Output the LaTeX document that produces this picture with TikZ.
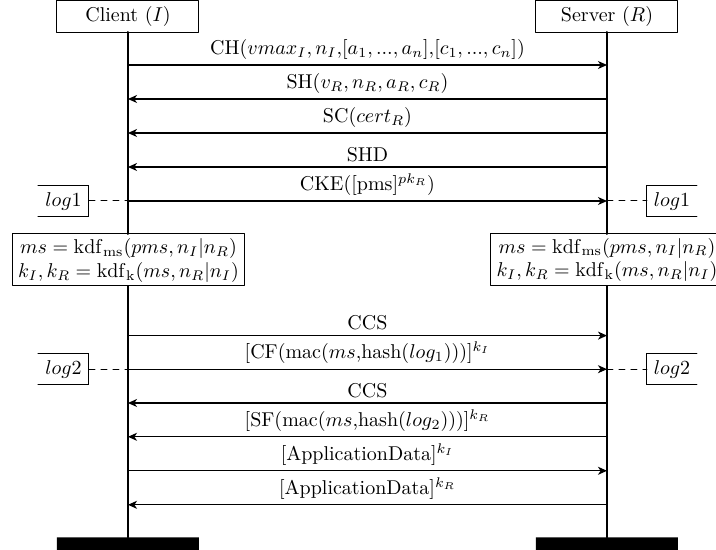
\documentclass[tikz,border=0pt]{standalone}
\usepackage{amsmath}
\usepackage{tkz-euclide}
\usetikzlibrary{arrows.meta}
\tikzset{msg/.style={line width=.6pt,-{Stealth[length=4.5pt,width=4pt,inset=1.3pt]}},
  msglabel/.style={above,inner sep=2.4pt},
  life/.style={line width=1pt},
  lbox/.style={line width=.5pt},
  logdash/.style={dashed,line width=.5pt}}

\begin{document}
\begin{tikzpicture}[scale=.3515]
\clip (0,0) rectangle (35.8,27.5);

% the two parties
\tkzDefPoint(2.85,25.9){cA}
\tkzDefPoint(9.95,25.9){cB}
\tkzDefPoint(9.95,27.47){cC}
\tkzDefPoint(2.85,27.47){cD}
\tkzDrawPolygon[lbox](cA,cB,cC,cD)
  \tkzDefBarycentricPoint(cA=1,cB=1,cC=1,cD=1) \tkzGetPoint{C}
  \tkzLabelPoint[anchor=center](C){Client $(I)$}

\tkzDefPoint(26.8,25.9){sA}
\tkzDefPoint(33.9,25.9){sB}
\tkzDefPoint(33.9,27.47){sC}
\tkzDefPoint(26.8,27.47){sD}
\tkzDrawPolygon[lbox](sA,sB,sC,sD)
  \tkzDefBarycentricPoint(sA=1,sB=1,sC=1,sD=1) \tkzGetPoint{S}
  \tkzLabelPoint[anchor=center](S){Server $(R)$}

% lifelines
\tkzDefPoint(6.4,25.9){I0}
\tkzDefPoint(6.4,15.8){I1}
\tkzDefPoint(6.4,13.2){I2}
\tkzDefPoint(6.4,.625){I3}
\tkzDefPoint(30.35,25.9){R0}
\tkzDefPoint(30.35,15.8){R1}
\tkzDefPoint(30.35,13.2){R2}
\tkzDefPoint(30.35,.625){R3}
\tkzDrawSegment[life](I0,I1)
\tkzDrawSegment[life](I2,I3)
\tkzDrawSegment[life](R0,R1)
\tkzDrawSegment[life](R2,R3)

% handshake
\tkzDefPoint(6.4,24.25){i1}
\tkzDefPoint(30.35,24.25){r1}
\tkzDrawSegment[msg](i1,r1)
\tkzLabelSegment[msglabel](i1,r1){CH($vmax_I, n_I$,[$a_1, ..., a_n$],[$c_1, ..., c_n$])}

\tkzDefPoint(6.4,22.55){i2}
\tkzDefPoint(30.35,22.55){r2}
\tkzDrawSegment[msg](r2,i2)
\tkzLabelSegment[msglabel](i2,r2){SH($v_R, n_R, a_R, c_R$)}

\tkzDefPoint(6.4,20.85){i3}
\tkzDefPoint(30.35,20.85){r3}
\tkzDrawSegment[msg](r3,i3)
\tkzLabelSegment[msglabel](i3,r3){SC($cert_R$)}

\tkzDefPoint(6.4,19.15){i4}
\tkzDefPoint(30.35,19.15){r4}
\tkzDrawSegment[msg](r4,i4)
\tkzLabelSegment[msglabel](i4,r4){SHD}

\tkzDefPoint(6.4,17.45){i5}
\tkzDefPoint(30.35,17.45){r5}
\tkzDrawSegment[msg](i5,r5)
\tkzLabelSegment[msglabel](i5,r5){CKE([pms]$^{pk_R}$)}

% log1
\tkzDefPoint(1.9,18.22){lA}
\tkzDefPoint(4.45,18.22){lB}
\tkzDefPoint(4.45,16.68){lC}
\tkzDefPoint(1.9,16.68){lD}
\tkzDrawPolySeg[lbox](lA,lB,lC,lD)
  \tkzDefBarycentricPoint(lA=1,lB=1,lC=1,lD=1) \tkzGetPoint{L1}
  \tkzLabelPoint[anchor=center](L1){$log1$}
\tkzDefPoint(4.45,17.45){lE}
\tkzDrawSegment[logdash](lE,i5)

\tkzDefPoint(34.85,18.22){mA}
\tkzDefPoint(32.35,18.22){mB}
\tkzDefPoint(32.35,16.68){mC}
\tkzDefPoint(34.85,16.68){mD}
\tkzDrawPolySeg[lbox](mA,mB,mC,mD)
  \tkzDefBarycentricPoint(mA=1,mB=1,mC=1,mD=1) \tkzGetPoint{M1}
  \tkzLabelPoint[anchor=center](M1){$log1$}
\tkzDefPoint(32.35,17.45){mE}
\tkzDrawSegment[logdash](r5,mE)

% key derivation
\tkzDefPoint(.6,13.2){kA}
\tkzDefPoint(12.25,13.2){kB}
\tkzDefPoint(12.25,15.8){kC}
\tkzDefPoint(.6,15.8){kD}
\tkzDrawPolygon[lbox](kA,kB,kC,kD)
  \tkzDefBarycentricPoint(kA=1,kB=1,kC=1,kD=1) \tkzGetPoint{K1}
  \tkzLabelPoint[anchor=center,align=center](K1){$ms = \mathrm{kdf}_{\mathrm{ms}}(pms,n_I|n_R)$\\
    $k_I, k_R = \mathrm{kdf}_{\mathrm{k}}(ms,n_R|n_I)$}

\tkzDefPoint(24.55,13.2){qA}
\tkzDefPoint(36.15,13.2){qB}
\tkzDefPoint(36.15,15.8){qC}
\tkzDefPoint(24.55,15.8){qD}
\tkzDrawPolygon[lbox](qA,qB,qC,qD)
  \tkzDefPoint(30.35,14.5){K2}
  \tkzLabelPoint[anchor=center,align=center](K2){$ms = \mathrm{kdf}_{\mathrm{ms}}(pms,n_I|n_R)$\\
    $k_I, k_R = \mathrm{kdf}_{\mathrm{k}}(ms,n_R|n_I)$}

% finished
\tkzDefPoint(6.4,10.72){i6}
\tkzDefPoint(30.35,10.72){r6}
\tkzDrawSegment[msg](i6,r6)
\tkzLabelSegment[msglabel](i6,r6){CCS}

\tkzDefPoint(6.4,9.04){i7}
\tkzDefPoint(30.35,9.04){r7}
\tkzDrawSegment[msg](i7,r7)
\tkzLabelSegment[msglabel](i7,r7){[CF(mac($ms$,hash($log_1$)))]$^{k_I}$}

% log2
\tkzDefPoint(1.9,9.82){nA}
\tkzDefPoint(4.45,9.82){nB}
\tkzDefPoint(4.45,8.26){nC}
\tkzDefPoint(1.9,8.26){nD}
\tkzDrawPolySeg[lbox](nA,nB,nC,nD)
  \tkzDefBarycentricPoint(nA=1,nB=1,nC=1,nD=1) \tkzGetPoint{L2}
  \tkzLabelPoint[anchor=center](L2){$log2$}
\tkzDefPoint(4.45,9.04){nE}
\tkzDrawSegment[logdash](nE,i7)

\tkzDefPoint(34.85,9.82){oA}
\tkzDefPoint(32.35,9.82){oB}
\tkzDefPoint(32.35,8.26){oC}
\tkzDefPoint(34.85,8.26){oD}
\tkzDrawPolySeg[lbox](oA,oB,oC,oD)
  \tkzDefBarycentricPoint(oA=1,oB=1,oC=1,oD=1) \tkzGetPoint{M2}
  \tkzLabelPoint[anchor=center](M2){$log2$}
\tkzDefPoint(32.35,9.04){oE}
\tkzDrawSegment[logdash](r7,oE)

\tkzDefPoint(6.4,7.35){i8}
\tkzDefPoint(30.35,7.35){r8}
\tkzDrawSegment[msg](r8,i8)
\tkzLabelSegment[msglabel](i8,r8){CCS}

\tkzDefPoint(6.4,5.66){i9}
\tkzDefPoint(30.35,5.66){r9}
\tkzDrawSegment[msg](r9,i9)
\tkzLabelSegment[msglabel](i9,r9){[SF(mac($ms$,hash($log_2$)))]$^{k_R}$}

% application data
\tkzDefPoint(6.4,3.96){i10}
\tkzDefPoint(30.35,3.96){r10}
\tkzDrawSegment[msg](i10,r10)
\tkzLabelSegment[msglabel](i10,r10){[ApplicationData]$^{k_I}$}

\tkzDefPoint(6.4,2.26){i11}
\tkzDefPoint(30.35,2.26){r11}
\tkzDrawSegment[msg](r11,i11)
\tkzLabelSegment[msglabel](i11,r11){[ApplicationData]$^{k_R}$}

% ends of the lifelines
\tkzDefPoint(2.85,0){bA}
\tkzDefPoint(9.95,0){bB}
\tkzDefPoint(9.95,.625){bC}
\tkzDefPoint(2.85,.625){bD}
\tkzFillPolygon[fill=black](bA,bB,bC,bD)
\tkzDefPoint(26.8,0){eA}
\tkzDefPoint(33.9,0){eB}
\tkzDefPoint(33.9,.625){eC}
\tkzDefPoint(26.8,.625){eD}
\tkzFillPolygon[fill=black](eA,eB,eC,eD)

\end{tikzpicture}
\end{document}
